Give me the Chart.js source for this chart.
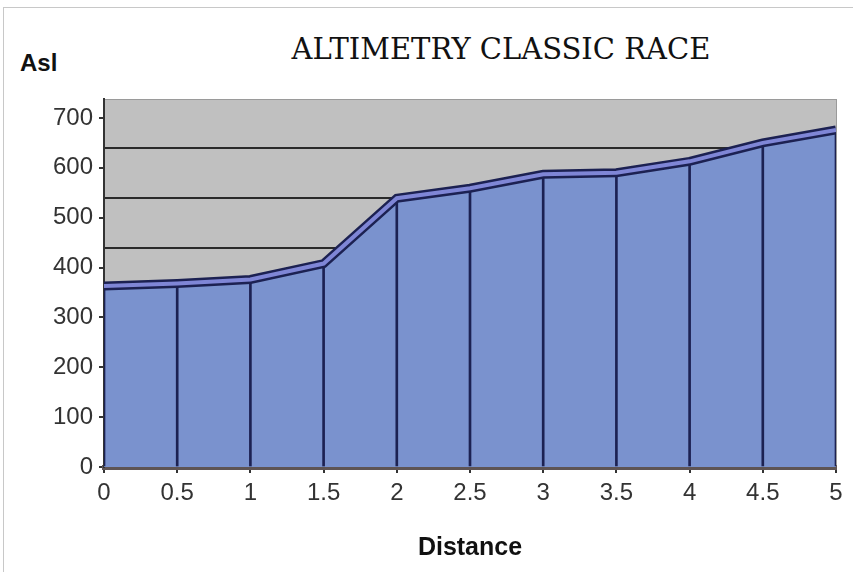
<!DOCTYPE html>
<html>
<head>
<meta charset="utf-8">
<script src="https://cdn.jsdelivr.net/npm/chart.js@4"></script>
<style>
  body { margin: 0; background: #fff; }
  #wrap { position: relative; width: 853px; height: 572px; overflow: hidden; }
  #frame { position: absolute; left: 3px; top: 7px; right: -2px; bottom: -2px;
           border-top: 1px solid #c8c8c8; border-left: 1px solid #c8c8c8; }
  #title { position: absolute; left: 201px; width: 600px; top: 35px; text-align: center;
           font: 29px/29px "DejaVu Serif", serif; color: #111; }
  #asl { position: absolute; left: 20px; top: 51px; font: bold 24px/24px "Liberation Sans", Arial, sans-serif; color: #111; }
  canvas { position: absolute; left: 0; top: 0; }
</style>
</head>
<body>
<div id="wrap">
  <div id="frame"></div>
  <div id="title">ALTIMETRY CLASSIC RACE</div>
  <div id="asl">Asl</div>
  <canvas id="altChart" width="853" height="572"></canvas>
</div>
<script>
// distance (km) and altitude above sea level (m)
const distances = [0, 0.5, 1, 1.5, 2, 2.5, 3, 3.5, 4, 4.5, 5];
const altitudes = [363, 368, 376, 408, 539, 559, 587, 590, 613, 650, 676];
const yTicks = [0, 100, 200, 300, 400, 500, 600, 700];
const backWallLines = [440, 540, 640];
const yMax = 738;

const points = distances.map((d, i) => ({ x: d, y: altitudes[i] }));

const plotBackground = {
  id: 'plotBackground',
  beforeDraw(chart) {
    const { ctx, chartArea: a } = chart;
    ctx.save();
    ctx.fillStyle = '#c0c0c0';
    ctx.fillRect(a.left, a.top, a.width, a.height);
    ctx.strokeStyle = '#9a9a9a';
    ctx.lineWidth = 1;
    ctx.strokeRect(a.left + 0.5, a.top + 0.5, a.width, a.height);
    ctx.restore();
  }
};

const tickFont = { family: '"Liberation Sans", Arial, sans-serif', size: 24 };

new Chart(document.getElementById('altChart'), {
  type: 'line',
  data: {
    datasets: [
      {
        // light middle of the top edge band
        data: points,
        borderColor: '#7f86d6',
        borderWidth: 4,
        pointRadius: 0,
        fill: false,
        yAxisID: 'y'
      },
      {
        // dark outline of the top edge band
        data: points,
        borderColor: '#1c2152',
        borderWidth: 9,
        pointRadius: 0,
        fill: false,
        yAxisID: 'y'
      },
      {
        // drop lines
        type: 'bar',
        data: points,
        backgroundColor: '#1c2152',
        barThickness: 2,
        yAxisID: 'y'
      },
      {
        // filled profile
        data: points,
        backgroundColor: '#7a92ce',
        borderWidth: 0,
        pointRadius: 0,
        fill: 'origin',
        yAxisID: 'y'
      }
    ]
  },
  options: {
    responsive: false,
    animation: false,
    layout: { padding: { top: 99, right: 17, left: 0, bottom: 0 } },
    plugins: {
      legend: { display: false },
      tooltip: { enabled: false }
    },
    scales: {
      x: {
        type: 'linear',
        min: 0,
        max: 5,
        offset: false,
        ticks: { stepSize: 0.5, color: '#333', font: tickFont, padding: 6, maxRotation: 0,
                 callback: v => String(v) },
        grid: { drawOnChartArea: false, tickLength: 6, color: '#333', lineWidth: 2, offset: false },
        border: { color: '#5e5454', width: 5 },
        title: {
          display: true,
          text: 'Distance',
          color: '#111',
          font: { family: '"Liberation Sans", Arial, sans-serif', size: 25, weight: 'bold' },
          padding: { top: 4, bottom: 9 }
        },
        afterFit(scale) { scale.height = 105; }
      },
      y: {
        min: 0,
        max: yMax,
        ticks: { color: '#333', font: tickFont, padding: 6 },
        grid: { drawOnChartArea: false, tickLength: 5, color: '#333', lineWidth: 2 },
        border: { color: '#333', width: 2 },
        afterBuildTicks(scale) { scale.ticks = yTicks.map(v => ({ value: v })); },
        afterFit(scale) { scale.width = 104; }
      },
      yg: {
        position: 'left',
        min: 0,
        max: yMax,
        ticks: { display: false },
        grid: { color: '#2a2a2a', lineWidth: 2, drawTicks: false },
        border: { display: false },
        afterBuildTicks(scale) { scale.ticks = backWallLines.map(v => ({ value: v })); },
        afterFit(scale) { scale.width = 0; }
      }
    }
  },
  plugins: [plotBackground]
});
</script>
</body>
</html>
